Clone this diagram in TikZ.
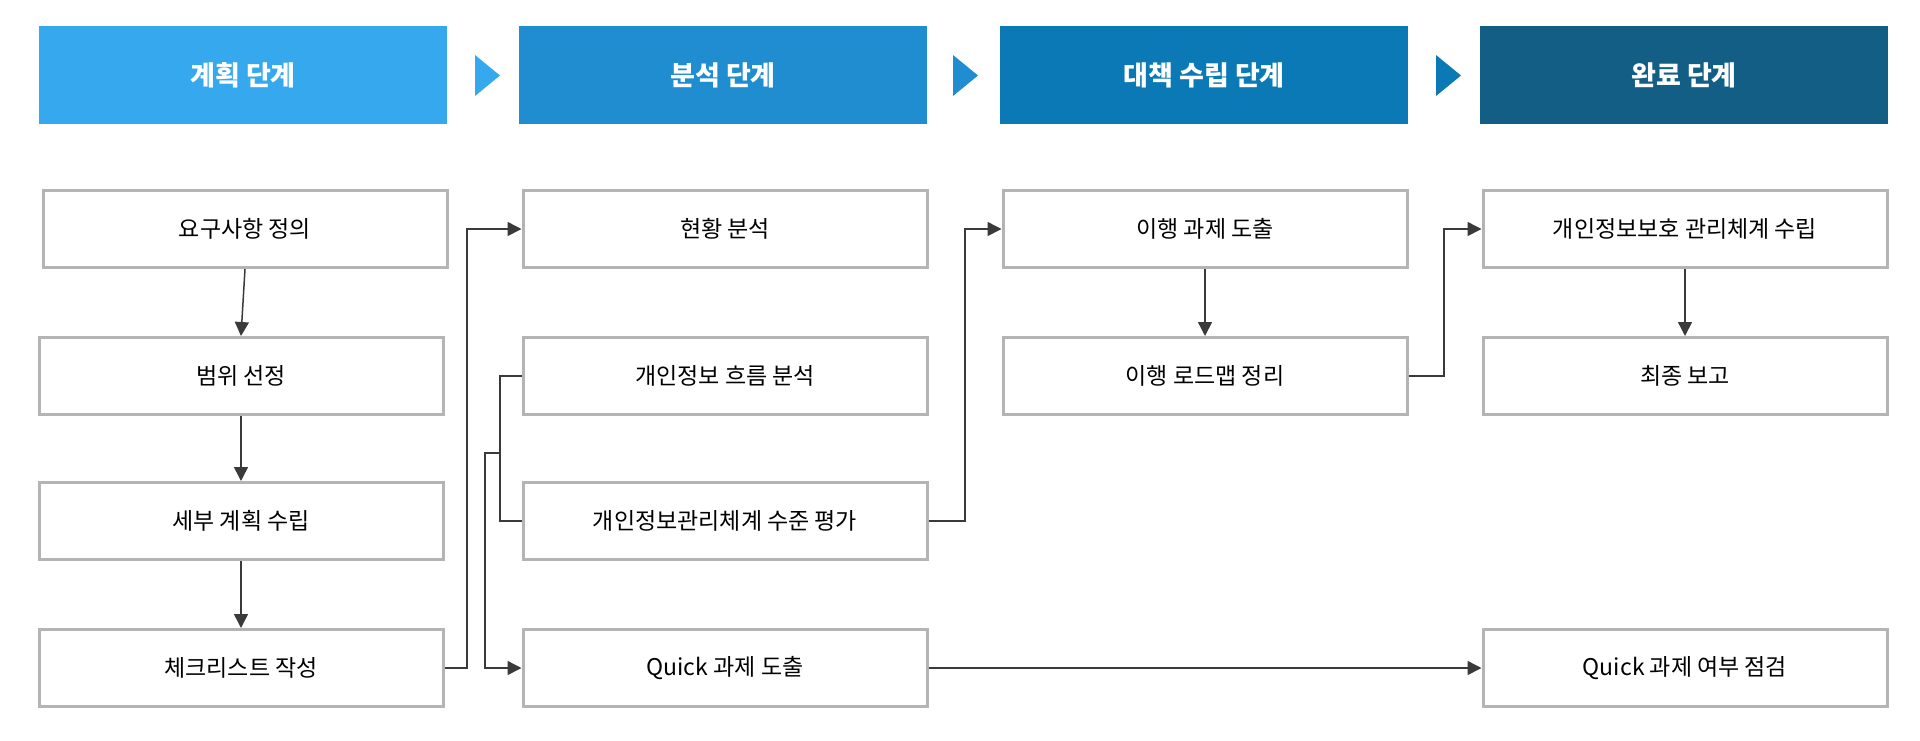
\documentclass[tikz,border=0pt]{standalone}
\usepackage{fontspec}
\setmainfont{Noto Sans CJK KR}
\usetikzlibrary{arrows.meta}
\definecolor{hA}{HTML}{36A9EE}
\definecolor{hB}{HTML}{1F8DD0}
\definecolor{hC}{HTML}{0A79B5}
\definecolor{hD}{HTML}{135E85}
\definecolor{bd}{HTML}{B4B4B4}
\definecolor{ln}{HTML}{3A3A3A}
\begin{document}
\begin{tikzpicture}[x=1pt,y=-1pt,
  hdr/.style={minimum width=408pt,minimum height=98pt,inner sep=0pt,text=white,font=\fontsize{27}{30}\selectfont\bfseries},
  bx/.style={draw=bd,line width=3pt,fill=white,minimum width=404pt,minimum height=77pt,inner sep=0pt,font=\fontsize{23}{26}\selectfont},
  con/.style={draw=ln,line width=1.5pt},
  arr/.style={con,-{Triangle[length=14pt,width=14pt]}}]
\useasboundingbox (0,0) rectangle (1920,740);
\node[hdr,fill=hA] (h1) at (243,75) {계획 단계};
\node[hdr,fill=hB] (h2) at (723,75) {분석 단계};
\node[hdr,fill=hC] (h3) at (1204,75) {대책 수립 단계};
\node[hdr,fill=hD] (h4) at (1684,75) {완료 단계};
\fill[hA] (475,55) -- (500,75.5) -- (475,96) -- cycle;
\fill[hB] (953,55) -- (978,75.5) -- (953,96) -- cycle;
\fill[hC] (1436,55) -- (1461,75.5) -- (1436,96) -- cycle;
\node[bx] (a1) at (245,229) {요구사항 정의};
\node[bx] (a2) at (241,376) {범위 선정};
\node[bx] (a3) at (241,521) {세부 계획 수립};
\node[bx] (a4) at (241,668) {체크리스트 작성};
\node[bx] (b1) at (725,229) {현황 분석};
\node[bx] (b2) at (725,376) {개인정보 흐름 분석};
\node[bx] (b3) at (725,521) {개인정보관리체계 수준 평가};
\node[bx] (b4) at (725,668) {Quick 과제 도출};
\node[bx] (c1) at (1205,229) {이행 과제 도출};
\node[bx] (c2) at (1205,376) {이행 로드맵 정리};
\node[bx] (d1) at (1685,229) {개인정보보호 관리체계 수립};
\node[bx] (d2) at (1685,376) {최종 보고};
\node[bx] (d4) at (1685,668) {Quick 과제 여부 점검};
\draw[arr] (a1.south) -- (a2.north);
\draw[arr] (a2.south) -- (a3.north);
\draw[arr] (a3.south) -- (a4.north);
\draw[arr] (a4.east) -- (467,668) |- (b1.west);
\draw[con] (b2.west) -- (500,376) |- (b3.west);
\coordinate (j) at (500,453);
\draw[arr] (j) -- (485,453) |- (b4.west);
\draw[arr] (b3.east) -- (965,521) |- (c1.west);
\draw[arr] (c1.south) -- (c2.north);
\draw[arr] (c2.east) -- (1444,376) |- (d1.west);
\draw[arr] (d1.south) -- (d2.north);
\draw[arr] (b4.east) -- (d4.west);
\end{tikzpicture}
\end{document}
